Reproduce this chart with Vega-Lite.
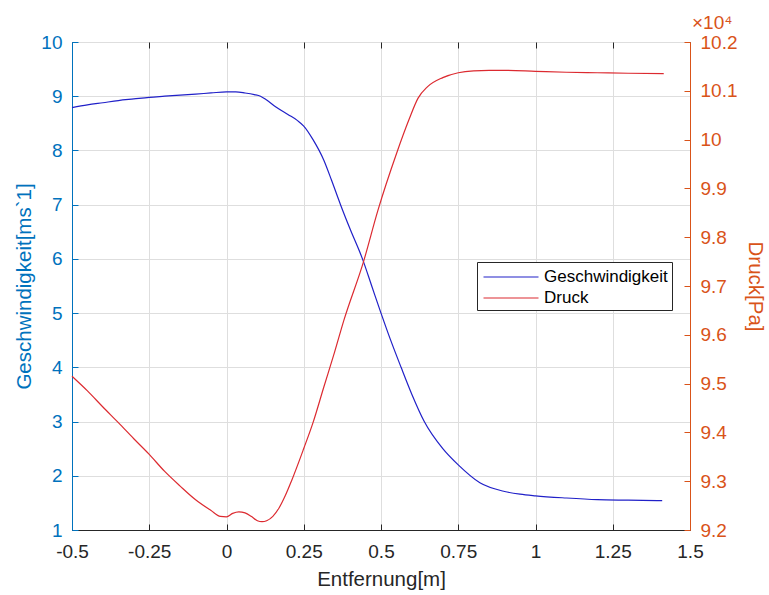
{
  "$schema": "https://vega.github.io/schema/vega-lite/v6.json",
  "autosize": {"type": "none"},
  "padding": {"left": 72, "top": 42, "right": 79, "bottom": 65},
  "width": 618,
  "height": 488,
  "background": "white",
  "config": {
    "font": "Liberation Sans",
    "view": {"stroke": "#262626", "strokeWidth": 1}
  },
  "title": {"text": "×10⁴", "anchor": "end", "frame": "group", "align": "left", "dx": 2, "offset": -15, "fontSize": 19, "fontWeight": "normal", "color": "#D95319", "baseline": "alphabetic", "font": "Liberation Sans"},
  "datasets": {
    "v": [
      {"x": -0.5, "y": 8.79, "s": "Geschwindigkeit"},
      {"x": -0.45, "y": 8.84, "s": "Geschwindigkeit"},
      {"x": -0.4, "y": 8.88, "s": "Geschwindigkeit"},
      {"x": -0.35, "y": 8.92, "s": "Geschwindigkeit"},
      {"x": -0.3, "y": 8.95, "s": "Geschwindigkeit"},
      {"x": -0.25, "y": 8.98, "s": "Geschwindigkeit"},
      {"x": -0.2, "y": 9.0, "s": "Geschwindigkeit"},
      {"x": -0.15, "y": 9.02, "s": "Geschwindigkeit"},
      {"x": -0.1, "y": 9.04, "s": "Geschwindigkeit"},
      {"x": -0.05, "y": 9.06, "s": "Geschwindigkeit"},
      {"x": 0.0, "y": 9.08, "s": "Geschwindigkeit"},
      {"x": 0.03, "y": 9.08, "s": "Geschwindigkeit"},
      {"x": 0.06, "y": 9.06, "s": "Geschwindigkeit"},
      {"x": 0.09, "y": 9.03, "s": "Geschwindigkeit"},
      {"x": 0.11, "y": 9.0, "s": "Geschwindigkeit"},
      {"x": 0.13, "y": 8.93, "s": "Geschwindigkeit"},
      {"x": 0.16, "y": 8.8, "s": "Geschwindigkeit"},
      {"x": 0.2, "y": 8.66, "s": "Geschwindigkeit"},
      {"x": 0.23, "y": 8.55, "s": "Geschwindigkeit"},
      {"x": 0.25, "y": 8.45, "s": "Geschwindigkeit"},
      {"x": 0.28, "y": 8.2, "s": "Geschwindigkeit"},
      {"x": 0.315, "y": 7.82, "s": "Geschwindigkeit"},
      {"x": 0.34, "y": 7.45, "s": "Geschwindigkeit"},
      {"x": 0.369, "y": 7.0, "s": "Geschwindigkeit"},
      {"x": 0.4, "y": 6.55, "s": "Geschwindigkeit"},
      {"x": 0.44, "y": 6.0, "s": "Geschwindigkeit"},
      {"x": 0.47, "y": 5.5, "s": "Geschwindigkeit"},
      {"x": 0.5, "y": 5.0, "s": "Geschwindigkeit"},
      {"x": 0.53, "y": 4.52, "s": "Geschwindigkeit"},
      {"x": 0.565, "y": 4.0, "s": "Geschwindigkeit"},
      {"x": 0.6, "y": 3.5, "s": "Geschwindigkeit"},
      {"x": 0.64, "y": 3.0, "s": "Geschwindigkeit"},
      {"x": 0.7, "y": 2.5, "s": "Geschwindigkeit"},
      {"x": 0.75, "y": 2.2, "s": "Geschwindigkeit"},
      {"x": 0.82, "y": 1.87, "s": "Geschwindigkeit"},
      {"x": 0.9, "y": 1.71, "s": "Geschwindigkeit"},
      {"x": 0.95, "y": 1.66, "s": "Geschwindigkeit"},
      {"x": 1.0, "y": 1.63, "s": "Geschwindigkeit"},
      {"x": 1.1, "y": 1.59, "s": "Geschwindigkeit"},
      {"x": 1.2, "y": 1.56, "s": "Geschwindigkeit"},
      {"x": 1.3, "y": 1.55, "s": "Geschwindigkeit"},
      {"x": 1.41, "y": 1.54, "s": "Geschwindigkeit"}
    ],
    "p": [
      {"x": -0.5, "y": 95150, "s": "Druck"},
      {"x": -0.45, "y": 94850, "s": "Druck"},
      {"x": -0.4, "y": 94520, "s": "Druck"},
      {"x": -0.35, "y": 94200, "s": "Druck"},
      {"x": -0.3, "y": 93870, "s": "Druck"},
      {"x": -0.25, "y": 93550, "s": "Druck"},
      {"x": -0.2, "y": 93200, "s": "Druck"},
      {"x": -0.15, "y": 92900, "s": "Druck"},
      {"x": -0.1, "y": 92620, "s": "Druck"},
      {"x": -0.05, "y": 92400, "s": "Druck"},
      {"x": -0.02, "y": 92280, "s": "Druck"},
      {"x": 0.0, "y": 92270, "s": "Druck"},
      {"x": 0.02, "y": 92340, "s": "Druck"},
      {"x": 0.04, "y": 92370, "s": "Druck"},
      {"x": 0.06, "y": 92350, "s": "Druck"},
      {"x": 0.08, "y": 92280, "s": "Druck"},
      {"x": 0.1, "y": 92190, "s": "Druck"},
      {"x": 0.115, "y": 92170, "s": "Druck"},
      {"x": 0.13, "y": 92190, "s": "Druck"},
      {"x": 0.15, "y": 92280, "s": "Druck"},
      {"x": 0.17, "y": 92450, "s": "Druck"},
      {"x": 0.19, "y": 92700, "s": "Druck"},
      {"x": 0.21, "y": 93000, "s": "Druck"},
      {"x": 0.25, "y": 93670, "s": "Druck"},
      {"x": 0.28, "y": 94200, "s": "Druck"},
      {"x": 0.315, "y": 94930, "s": "Druck"},
      {"x": 0.35, "y": 95650, "s": "Druck"},
      {"x": 0.38, "y": 96300, "s": "Druck"},
      {"x": 0.443, "y": 97490, "s": "Druck"},
      {"x": 0.49, "y": 98550, "s": "Druck"},
      {"x": 0.55, "y": 99710, "s": "Druck"},
      {"x": 0.59, "y": 100400, "s": "Druck"},
      {"x": 0.62, "y": 100850, "s": "Druck"},
      {"x": 0.65, "y": 101080, "s": "Druck"},
      {"x": 0.7, "y": 101270, "s": "Druck"},
      {"x": 0.75, "y": 101370, "s": "Druck"},
      {"x": 0.8, "y": 101410, "s": "Druck"},
      {"x": 0.85, "y": 101420, "s": "Druck"},
      {"x": 0.9, "y": 101420, "s": "Druck"},
      {"x": 1.0, "y": 101400, "s": "Druck"},
      {"x": 1.1, "y": 101380, "s": "Druck"},
      {"x": 1.2, "y": 101370, "s": "Druck"},
      {"x": 1.3, "y": 101360, "s": "Druck"},
      {"x": 1.415, "y": 101350, "s": "Druck"}
    ]
  },
  "layer": [
    {
      "data": {"name": "v"},
      "mark": {"type": "line", "strokeWidth": 1.2, "interpolate": "monotone"},
      "encoding": {
        "x": {"field": "x", "type": "quantitative", "scale": {"domain": [-0.5, 1.5], "nice": false, "zero": false},
          "axis": {"orient": "bottom", "values": [-0.5, -0.25, 0, 0.25, 0.5, 0.75, 1, 1.25, 1.5], "labelExpr": "'' + datum.value", "title": "Entfernung[m]", "labelFont": "Liberation Sans", "titleFont": "Liberation Sans", "labelFontSize": 19, "titleFontSize": 20.5, "titleFontWeight": "normal", "labelPadding": 18, "titlePadding": 8, "tickSize": -6, "labelFlush": false, "labelOverlap": false, "labelColor": "#262626", "titleColor": "#262626", "domainColor": "#262626", "tickColor": "#262626", "grid": true, "gridColor": "#dedede"}},
        "y": {"field": "y", "type": "quantitative", "scale": {"domain": [1, 10], "nice": false, "zero": false},
          "axis": {"orient": "left", "values": [1, 2, 3, 4, 5, 6, 7, 8, 9, 10], "title": "Geschwindigkeit[ms`1]", "labelFont": "Liberation Sans", "titleFont": "Liberation Sans", "labelFontSize": 19, "titleFontSize": 20.5, "titleFontWeight": "normal", "labelPadding": 16, "titlePadding": 6, "tickSize": -6, "labelFlush": false, "labelOverlap": false, "labelColor": "#0072BD", "titleColor": "#0072BD", "domainColor": "#0072BD", "tickColor": "#0072BD", "grid": true, "gridColor": "#dedede"}},
        "color": {"field": "s", "type": "nominal", "scale": {"domain": ["Geschwindigkeit", "Druck"], "range": ["#2020c8", "#dc2a30"]},
          "legend": {"orient": "none", "legendX": 405, "legendY": 220, "title": null, "symbolType": "M-2.75,0H2.75", "symbolSize": 400, "symbolStrokeWidth": 1.2, "symbolFillColor": "transparent", "symbolOffset": 19, "labelFontSize": 17, "labelFont": "Liberation Sans", "labelColor": "#000000", "labelOffset": 22, "rowPadding": 2, "padding": 4, "fillColor": "white", "strokeColor": "#262626", "cornerRadius": 0}}
      }
    },
    {
      "data": {"name": "p"},
      "mark": {"type": "line", "strokeWidth": 1.2, "interpolate": "monotone"},
      "encoding": {
        "x": {"field": "x", "type": "quantitative", "scale": {"domain": [-0.5, 1.5], "nice": false, "zero": false},
          "axis": {"orient": "top", "values": [-0.5, -0.25, 0, 0.25, 0.5, 0.75, 1, 1.25, 1.5], "labels": false, "title": null, "grid": false, "domain": false, "tickSize": -6, "tickColor": "#262626"}},
        "y": {"field": "y", "type": "quantitative", "scale": {"domain": [92000, 102000], "nice": false, "zero": false},
          "axis": {"orient": "right", "values": [92000, 93000, 94000, 95000, 96000, 97000, 98000, 99000, 100000, 101000, 102000], "labelExpr": "'' + round(datum.value / 1000) / 10", "title": "Druck[Pa]", "labelFont": "Liberation Sans", "titleFont": "Liberation Sans", "labelFontSize": 19, "titleFontSize": 20.5, "titleFontWeight": "normal", "labelPadding": 16, "titlePadding": 8, "tickSize": -6, "labelFlush": false, "labelOverlap": false, "labelColor": "#D95319", "titleColor": "#D95319", "domainColor": "#D95319", "tickColor": "#D95319", "grid": false}},
        "color": {"field": "s", "type": "nominal"}
      }
    }
  ],
  "resolve": {"scale": {"y": "independent"}, "axis": {"y": "independent", "x": "independent"}}
}
